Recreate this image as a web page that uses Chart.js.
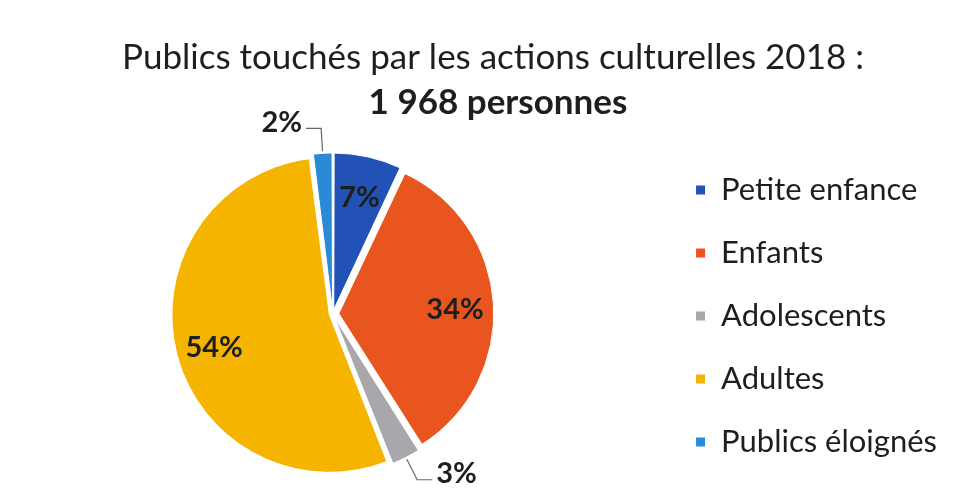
<!DOCTYPE html>
<html>
<head>
<meta charset="utf-8">
<script src="https://cdn.jsdelivr.net/npm/chart.js@4/dist/chart.umd.min.js"></script>
<style>
  body { margin: 0; background: #fff; }
  canvas { display: block; }
</style>
</head>
<body>
<canvas id="myChart" width="964" height="494"></canvas>
<script>
const categories = ['Petite enfance', 'Enfants', 'Adolescents', 'Adultes', 'Publics éloignés'];
const shares = [7, 34, 3, 54, 2];
const sliceColors = ['#2252b6', '#e9551f', '#a8a8ac', '#f4b400', '#2b8ad6'];
const titleLine = 'Publics touchés par les actions culturelles 2018 :';
const subtitleLine = '1 968 personnes';

const FONT = 'Lato';
const SHIFT = 7;   // écartement des parts (px)
const total = shares.reduce((a, b) => a + b, 0);

// titre sur deux lignes, centré sur toute la largeur
const heading = {
    id: 'heading',
    afterDraw(chart) {
        const ctx = chart.ctx;
        ctx.save();
        ctx.fillStyle = '#1e1e1e';
        ctx.textAlign = 'center';
        ctx.textBaseline = 'middle';
        ctx.font = '35px ' + FONT;
        ctx.fillText(titleLine, 493, 58);
        ctx.font = 'bold 35px ' + FONT;
        ctx.fillText(subtitleLine, 498, 103);
        ctx.restore();
    }
};

// étiquettes en %, les petites parts à l'extérieur avec un trait
const pctLabels = {
    id: 'pctLabels',
    afterDatasetsDraw(chart) {
        const ctx = chart.ctx;
        const meta = chart.getDatasetMeta(0);
        ctx.save();
        ctx.font = 'bold 29px ' + FONT;
        ctx.fillStyle = '#1e1e1e';
        ctx.strokeStyle = '#666';
        ctx.lineWidth = 1.2;
        ctx.textBaseline = 'middle';
        meta.data.forEach((arc, i) => {
            const p = arc.getProps(['x', 'y', 'startAngle', 'endAngle', 'outerRadius'], true);
            const mid = (p.startAngle + p.endAngle) / 2;
            const cos = Math.cos(mid), sin = Math.sin(mid);
            const text = shares[i] + '%';
            if (shares[i] >= 5) {
                const r = p.outerRadius * 0.75 + SHIFT;
                ctx.textAlign = 'center';
                ctx.fillText(text, p.x + cos * r, p.y + sin * r + 3);
            } else {
                const r0 = p.outerRadius + SHIFT + 2;
                const r1 = p.outerRadius + SHIFT + 25;
                const x0 = p.x + cos * r0, y0 = p.y + sin * r0;
                const x1 = p.x + cos * r1, y1 = p.y + sin * r1;
                const dir = x1 < p.x ? -1 : 1;
                const x2 = x1 + dir * 15;
                ctx.beginPath();
                ctx.moveTo(x0, y0);
                ctx.lineTo(x1, y1);
                ctx.lineTo(x2, y1);
                ctx.stroke();
                ctx.textAlign = dir < 0 ? 'right' : 'left';
                ctx.fillText(text, x2 + dir * 4, y1 - 6);
            }
        });
        ctx.restore();
    }
};

document.addEventListener("DOMContentLoaded", function() {
    const ctx = document.getElementById('myChart').getContext('2d');

    const data = {
        labels: categories,
        datasets: [{
            data: shares,
            backgroundColor: sliceColors,
            borderColor: '#fff',
            borderWidth: 1,
            // Chart.js déplace une part de offset/4 * (1 + fix) : on compense pour un écart constant
            offset: function(c) {
                const circ = c.raw / total * 2 * Math.PI;
                const fix = 1 - Math.sin(Math.min(Math.PI, circ));
                return 4 * SHIFT / (1 + fix);
            },
            radius: 154
        }]
    };

    const config = {
        type: 'pie',
        data: data,
        options: {
            responsive: false,
            animation: false,
            layout: {
                padding: { left: 2, right: 17, top: 136, bottom: 2 }
            },
            plugins: {
                legend: {
                    position: 'right',
                    title: {
                        display: true,
                        text: '',
                        font: { size: 4, lineHeight: 1 },
                        padding: 0
                    },
                    labels: {
                        boxWidth: 10,
                        boxHeight: 10,
                        padding: 32,
                        color: '#1e1e1e',
                        font: { family: FONT, size: 31 }
                    }
                },
                tooltip: { enabled: false }
            }
        },
        plugins: [pctLabels, heading]
    };

    const myChart = new Chart(ctx, config);
});
</script>
</body>
</html>
